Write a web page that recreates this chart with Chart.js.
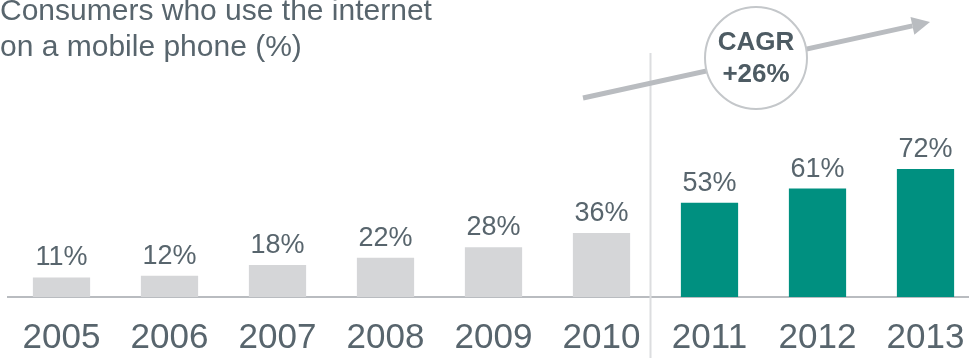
<!DOCTYPE html>
<html>
<head>
<meta charset="utf-8">
<script src="https://cdn.jsdelivr.net/npm/chart.js@4/dist/chart.umd.min.js"></script>
<style>
    html, body { margin: 0; padding: 0; background: #fff; overflow: hidden; }
    #wrap { position: relative; width: 969px; height: 358px; overflow: hidden; }
    #chart { position: absolute; left: 0; top: 0; }
</style>
</head>
<body>
<div id="wrap"><canvas id="chart" width="990" height="382"></canvas></div>
<script>
const YEARS = ['2005', '2006', '2007', '2008', '2009', '2010', '2011', '2012', '2013'];
const SHARE = [11, 12, 18, 22, 28, 36, 53, 61, 72];
const FORECAST_FROM = 6; // 2011 onwards in teal
const TITLE_LINES = ['Consumers who use the internet', 'on a mobile phone (%)'];
const CAGR_LINES = ['CAGR', '+26%'];

const FONT = '"Liberation Sans", Arial, Helvetica, sans-serif';
const TEXT = '#58656d';
const GREY_BAR = '#d5d6d8';
const TEAL_BAR = '#009080';
const AXIS = '#b9bcc0';
const DIVIDER = '#dcdddf';

const barColors = SHARE.map((v, i) => (i >= FORECAST_FROM ? TEAL_BAR : GREY_BAR));

const valueLabels = {
    id: 'valueLabels',
    afterDatasetsDraw(chart) {
        const ctx = chart.ctx;
        const meta = chart.getDatasetMeta(0);
        ctx.save();
        ctx.font = '27px ' + FONT;
        ctx.fillStyle = TEXT;
        ctx.textAlign = 'center';
        ctx.textBaseline = 'alphabetic';
        meta.data.forEach((bar, i) => {
            ctx.fillText(SHARE[i] + '%', bar.x, bar.y - 12);
        });
        ctx.restore();
    },
};

const decorations = {
    id: 'decorations',
    beforeDatasetsDraw(chart) {
        // divider between history and recent years
        const ctx = chart.ctx;
        const x = chart.scales.x;
        const dx = (x.getPixelForValue(FORECAST_FROM - 1) + x.getPixelForValue(FORECAST_FROM)) / 2 - 5;
        ctx.save();
        ctx.strokeStyle = DIVIDER;
        ctx.lineWidth = 2;
        ctx.beginPath();
        ctx.moveTo(dx, 53);
        ctx.lineTo(dx, chart.height);
        ctx.stroke();
        ctx.restore();
    },
    afterDraw(chart) {
        const ctx = chart.ctx;
        ctx.save();

        // title
        ctx.font = '30px ' + FONT;
        ctx.fillStyle = TEXT;
        ctx.textAlign = 'left';
        ctx.textBaseline = 'alphabetic';
        ctx.fillText(TITLE_LINES[0], 0, 20);
        ctx.fillText(TITLE_LINES[1], 0, 56);

        // growth arrow
        const x0 = 583, y0 = 98, x1 = 930, y1 = 22;
        const ang = Math.atan2(y1 - y0, x1 - x0);
        const headLen = 18, headW = 9;
        const bx = x1 - headLen * Math.cos(ang);
        const by = y1 - headLen * Math.sin(ang);
        ctx.strokeStyle = AXIS;
        ctx.fillStyle = AXIS;
        ctx.lineWidth = 5;
        ctx.beginPath();
        ctx.moveTo(x0, y0);
        ctx.lineTo(bx, by);
        ctx.stroke();
        ctx.beginPath();
        ctx.moveTo(x1, y1);
        ctx.lineTo(bx + headW * Math.sin(ang), by - headW * Math.cos(ang));
        ctx.lineTo(bx - headW * Math.sin(ang), by + headW * Math.cos(ang));
        ctx.closePath();
        ctx.fill();

        // CAGR bubble
        const cx = 756, cy = 58, r = 51;
        ctx.beginPath();
        ctx.arc(cx, cy, r, 0, Math.PI * 2);
        ctx.fillStyle = '#ffffff';
        ctx.fill();
        ctx.strokeStyle = '#c4c7ca';
        ctx.lineWidth = 2;
        ctx.stroke();

        ctx.fillStyle = '#4d5b63';
        ctx.font = 'bold 26px ' + FONT;
        ctx.textAlign = 'center';
        ctx.textBaseline = 'middle';
        ctx.fillText(CAGR_LINES[0], cx, cy - 15);
        ctx.fillText(CAGR_LINES[1], cx, cy + 17);
        ctx.restore();
    },
};

const buildConfig = () => {
    return {
        type: 'bar',
        data: {
            labels: YEARS,
            datasets: [
                {
                    data: SHARE,
                    backgroundColor: barColors,
                    borderWidth: 0,
                    categoryPercentage: 1,
                    barPercentage: 0.53,
                },
            ],
        },
        options: {
            responsive: false,
            animation: false,
            layout: {
                padding: { left: 7.5, right: 10.5, top: 0, bottom: 3 },
            },
            plugins: {
                legend: { display: false },
                tooltip: { enabled: false },
            },
            scales: {
                x: {
                    grid: { display: false, drawTicks: false },
                    border: { display: true, color: AXIS, width: 2 },
                    ticks: {
                        color: TEXT,
                        padding: 20,
                        font: { family: FONT, size: 35 },
                        maxRotation: 0,
                        autoSkip: false,
                    },
                },
                y: {
                    display: false,
                    min: 0,
                    max: 167,
                },
            },
        },
        plugins: [decorations, valueLabels],
    };
};

(function () {
    const el = document.getElementById('chart');
    new Chart(el, buildConfig());
})();
</script>
</body>
</html>
